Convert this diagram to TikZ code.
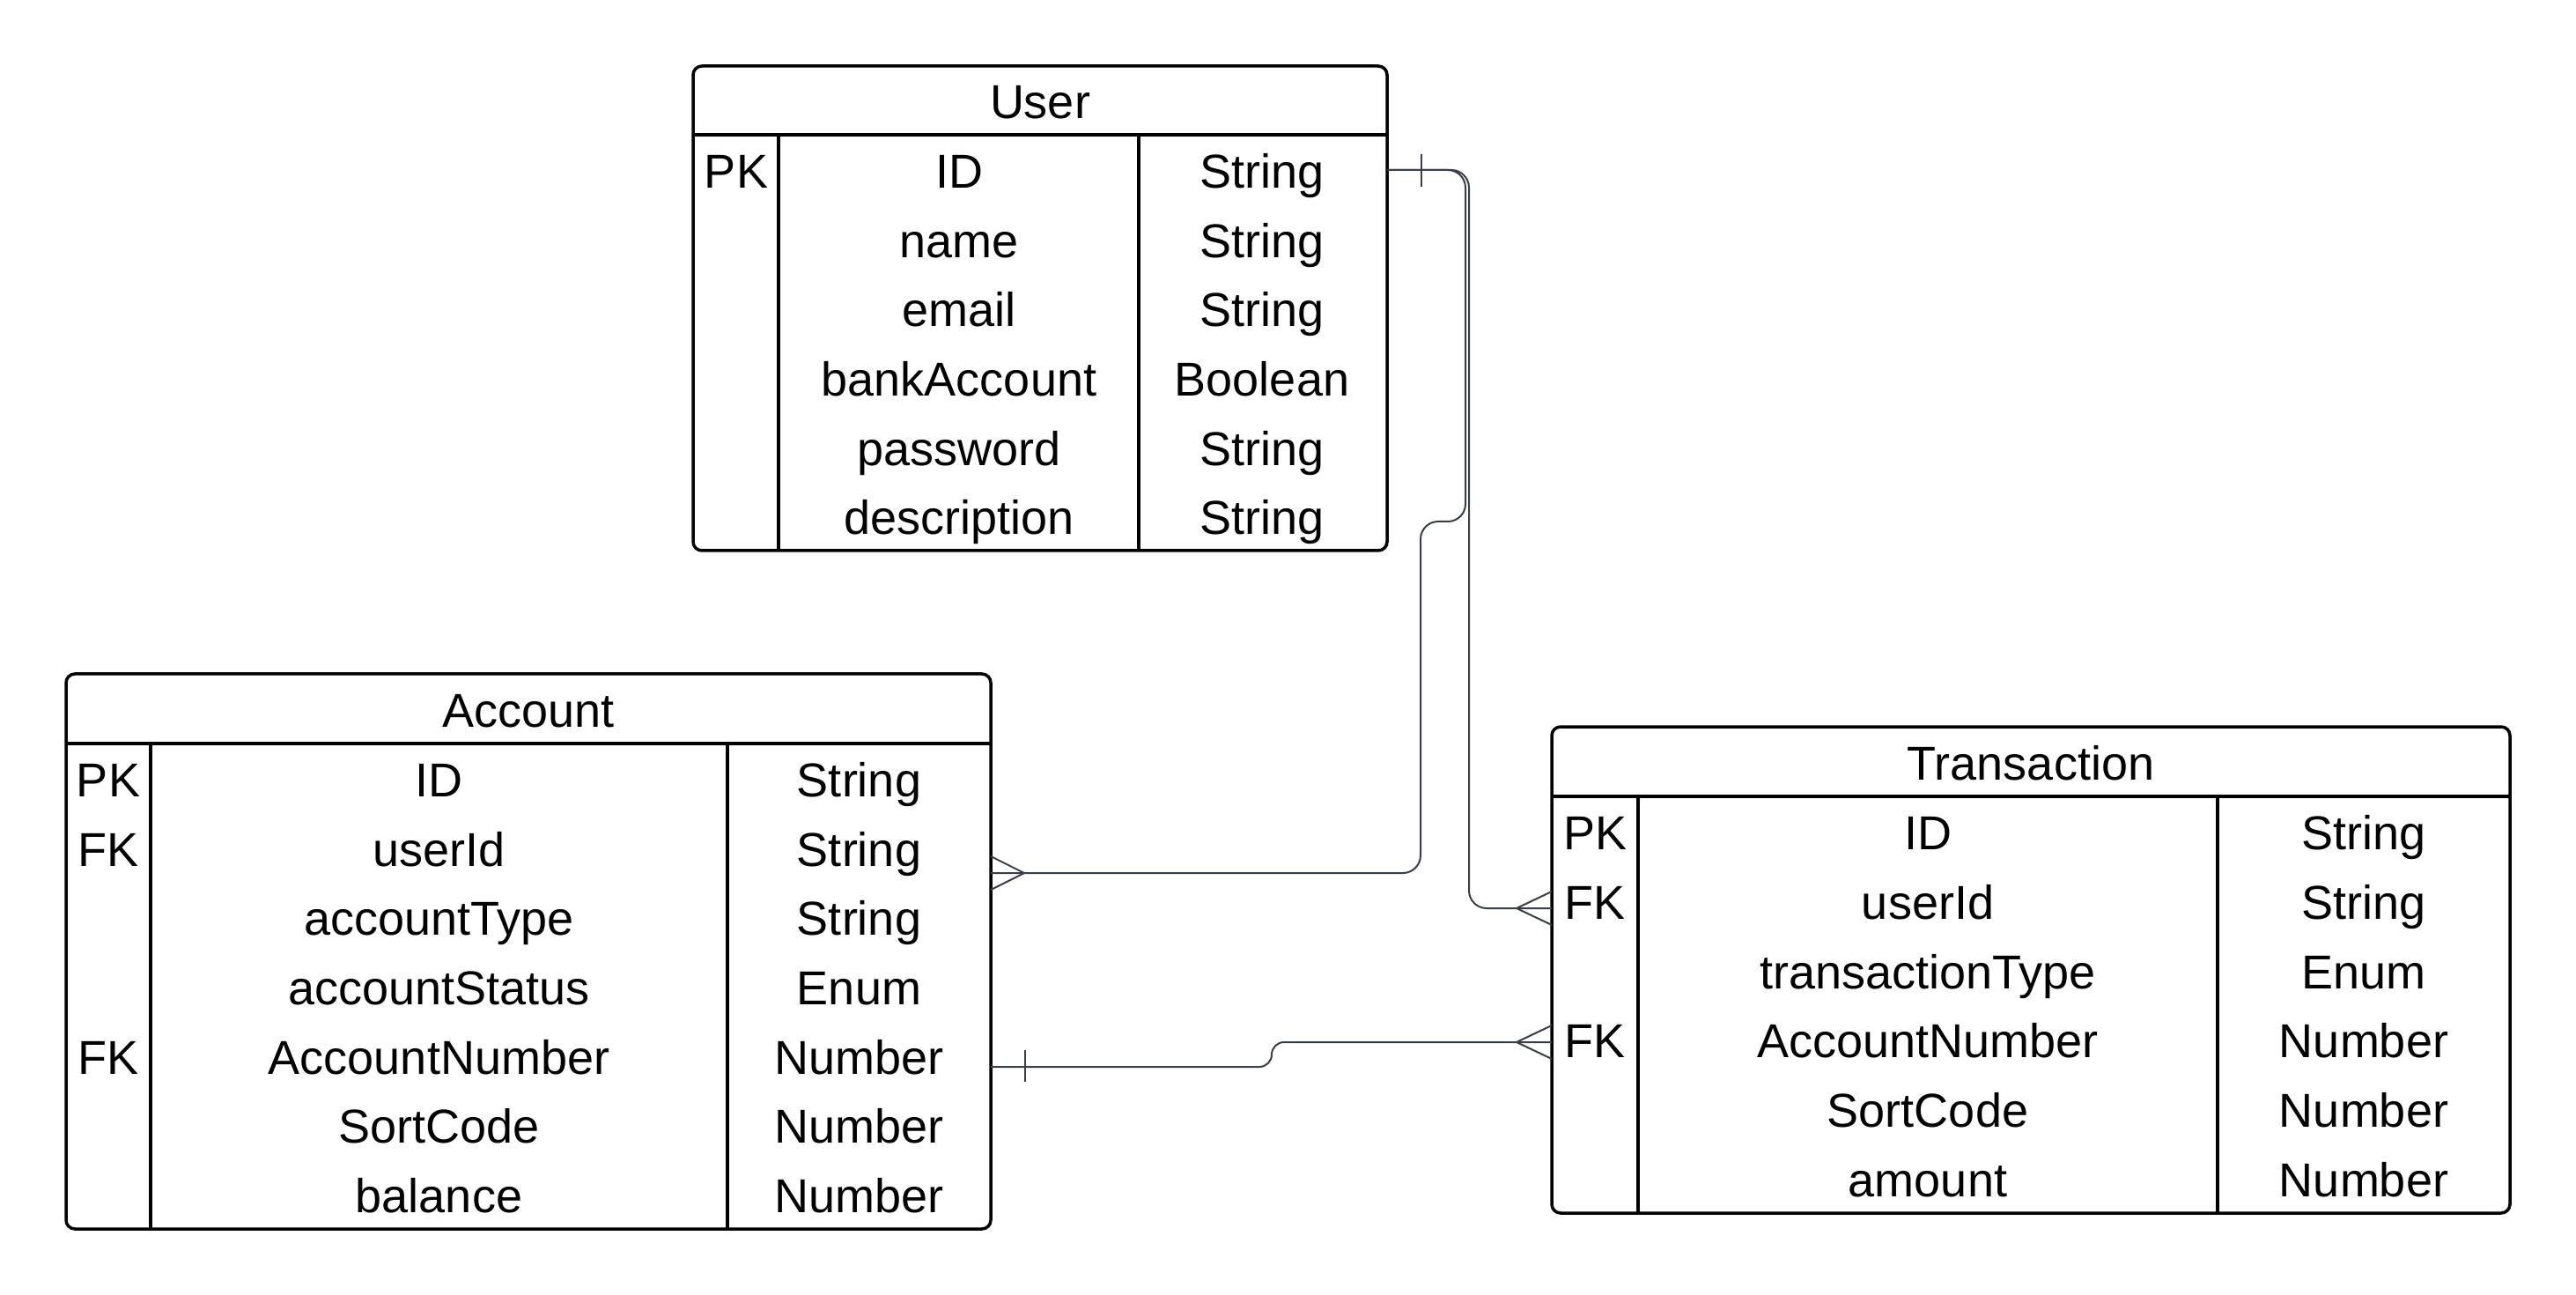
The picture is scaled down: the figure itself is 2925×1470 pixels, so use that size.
\documentclass[tikz,border=0pt]{standalone}
\usepackage{fontspec}
\setmainfont{Liberation Sans}
\usetikzlibrary{calc}
\definecolor{linec}{HTML}{3A3F47}
\begin{document}
\begin{tikzpicture}[x=0.5pt,y=-0.5pt,
  tbl/.style={draw=black, line width=1.75pt, rounded corners=5pt, inner sep=0pt, outer sep=0pt},
  sepline/.style={draw=black, line width=1.75pt},
  txt/.style={font=\fontsize{27}{30}\selectfont, anchor=base, inner sep=0pt},
  conn/.style={draw=linec, line width=1pt, rounded corners=10pt},
  endm/.style={draw=linec, line width=1pt}
]
\useasboundingbox[fill=white] (0,0) rectangle (2925,1470);

% ---------- User ----------
\node[tbl, minimum width=394pt, minimum height=275pt] (user) at (1181,350) {};
\draw[sepline] (787,153) -- (1575,153);
\draw[sepline] (884,153) -- (884,625);
\draw[sepline] (1293,153) -- (1293,625);
\node[txt] (user-title) at (1181,135) {User};
\foreach \k/\n/\t [count=\i] in {PK/ID/String, /name/String, /email/String, /bankAccount/Boolean, /password/String, /description/String}{
  \node[txt] (u-k\i) at (836,{153+(\i-0.5)*78.67+21}) {\k};
  \node[txt] (u-n\i) at (1089,{153+(\i-0.5)*78.67+21}) {\n};
  \node[txt] (u-t\i) at (1433,{153+(\i-0.5)*78.67+21}) {\t};
}

% ---------- Account ----------
\node[tbl, minimum width=525pt, minimum height=315pt] (account) at (600,1080) {};
\draw[sepline] (75,844) -- (1125,844);
\draw[sepline] (171,844) -- (171,1395);
\draw[sepline] (826,844) -- (826,1395);
\node[txt] (account-title) at (600,825.5) {Account};
\foreach \k/\n/\t [count=\i] in {PK/ID/String, FK/userId/String, /accountType/String, /accountStatus/Enum, FK/AccountNumber/Number, /SortCode/Number, /balance/Number}{
  \node[txt] (a-k\i) at (123,{844+(\i-0.5)*78.71+21}) {\k};
  \node[txt] (a-n\i) at (498.5,{844+(\i-0.5)*78.71+21}) {\n};
  \node[txt] (a-t\i) at (975.5,{844+(\i-0.5)*78.71+21}) {\t};
}

% ---------- Transaction ----------
\node[tbl, minimum width=544pt, minimum height=276pt] (trans) at (2306,1101) {};
\draw[sepline] (1762,904) -- (2850,904);
\draw[sepline] (1860,904) -- (1860,1377);
\draw[sepline] (2518,904) -- (2518,1377);
\node[txt] (trans-title) at (2306,885.5) {Transaction};
\foreach \k/\n/\t [count=\i] in {PK/ID/String, FK/userId/String, /transactionType/Enum, FK/AccountNumber/Number, /SortCode/Number, /amount/Number}{
  \node[txt] (t-k\i) at (1811,{904+(\i-0.5)*78.83+21}) {\k};
  \node[txt] (t-n\i) at (2189,{904+(\i-0.5)*78.83+21}) {\n};
  \node[txt] (t-t\i) at (2684,{904+(\i-0.5)*78.83+21}) {\t};
}

% ---------- connector end points ----------
\path (user.north east) ++(0,118) coordinate (u-out);
\path (account.north east) ++(0,226) coordinate (a-c1);
\path (account.north east) ++(0,446) coordinate (a-c3);
\path (trans.north west) ++(0,206) coordinate (t-c2);
\path (trans.north west) ++(0,358) coordinate (t-c3);

% ---------- connectors ----------
% User -> Account
\draw[conn] (u-out) -- (1664,193) -- (1664,592) -- (1613,592) -- (1613,991) -- (a-c1);
% User -> Transaction
\draw[conn] (u-out) -- (1668,193) -- (1668,1031) -- (t-c2);
% Account -> Transaction
\draw[conn, rounded corners=7pt] (a-c3) -- (1444,1211) -- (1444,1183) -- (t-c3);

% ---------- end marks ----------
\draw[endm] ($(u-out)+(39,-18)$) -- ($(u-out)+(39,19)$);
\draw[endm] ($(a-c3)+(39,-19)$) -- ($(a-c3)+(39,17)$);
\draw[endm] ($(a-c1)+(0,-19)$) -- ($(a-c1)+(38,0)$) -- ($(a-c1)+(0,19)$);
\draw[endm] ($(t-c2)+(0,-19)$) -- ($(t-c2)+(-40,0)$) -- ($(t-c2)+(0,19)$);
\draw[endm] ($(t-c3)+(0,-19)$) -- ($(t-c3)+(-40,0)$) -- ($(t-c3)+(0,19)$);
\end{tikzpicture}
\end{document}
